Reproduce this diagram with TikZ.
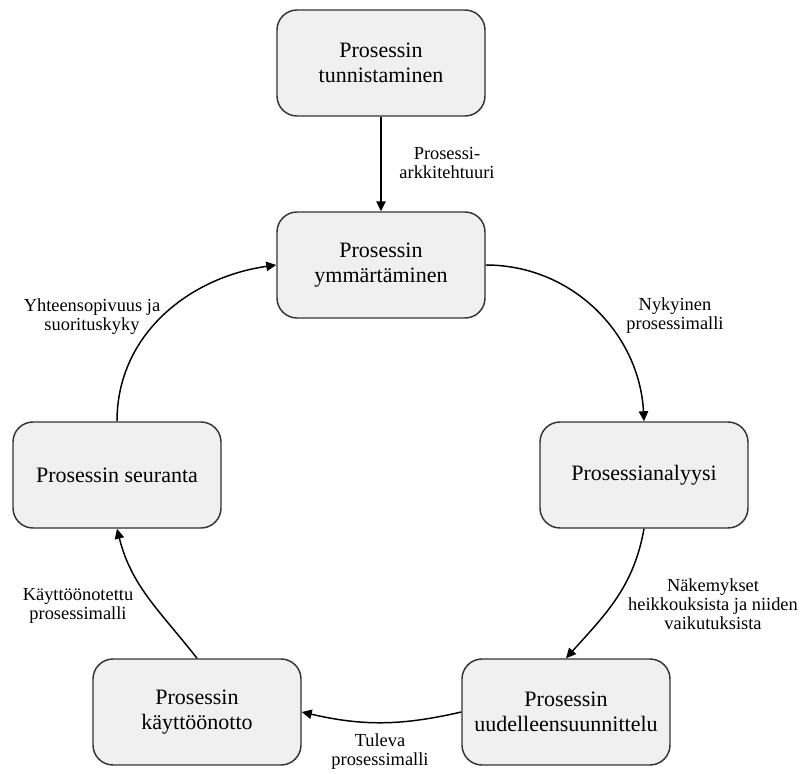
\documentclass[tikz,border=0pt]{standalone}
\usepackage{fontspec}
\setmainfont{Liberation Serif}
\usetikzlibrary{arrows.meta}
\definecolor{boxfill}{HTML}{F0F0F0}
\definecolor{boxline}{HTML}{333333}
\tikzset{
  box/.style={draw=boxline,fill=boxfill,line width=1.1pt,rounded corners=15pt,
    minimum width=156pt,minimum height=79.5pt,align=center,
    font=\fontsize{16.5}{18.8}\selectfont},
  lbl/.style={align=center,inner sep=1pt,font=\fontsize{13.8}{14.3}\selectfont},
  conn/.style={->,line width=1.1pt}
}
\begin{document}
\begin{tikzpicture}[x=0.75pt,y=-0.75pt,>={Triangle[length=7.5pt,width=7pt]}]
    \useasboundingbox (0,0) rectangle (800,774);
    \node[box] (tunnistus) at (381,63) {Prosessin\\tunnistaminen};
    \node[box] (ymmarrys) at (381,265) {Prosessin\\ymmärtäminen};
    \node[box] (analyysi) at (644,475) {Prosessianalyysi};
    \node[box] (uudelleen) at (566,712) {Prosessin\\uudelleensuunnittelu};
    \node[box] (kaytto) at (197,712) {Prosessin\\käyttöönotto};
    \node[box] (seuranta) at (117,475) {Prosessin seuranta};
    \draw[conn] (tunnistus) -- (ymmarrys); %ylhäältä alas
    \draw[conn] (ymmarrys.east) to[out=0,in=93] (analyysi.north);
    \draw[conn] (analyysi.south) to[out=260,in=48] (uudelleen.north);
    \draw[conn] (uudelleen.west) to[out=193,in=-13] (kaytto.east);
    \draw[conn] (kaytto.north) to[out=128,in=-76] (seuranta.south);
    \draw[conn] (seuranta.north) to[out=90,in=188] (ymmarrys.west);
    \node[lbl] (l1) at (447,163) {Prosessi-\\arkkitehtuuri};
    \node[lbl] (l2) at (675,316) {Nykyinen\\prosessimalli};
    \node[lbl] (l3) at (713,604) {Näkemykset\\heikkouksista ja niiden\\vaikutuksista};
    \node[lbl] (l4) at (380,752) {Tuleva\\prosessimalli};
    \node[lbl] (l5) at (78,606) {Käyttöönotettu\\prosessimalli};
    \node[lbl] (l6) at (92,317) {Yhteensopivuus ja\\suorituskyky};
\end{tikzpicture}
\end{document}
